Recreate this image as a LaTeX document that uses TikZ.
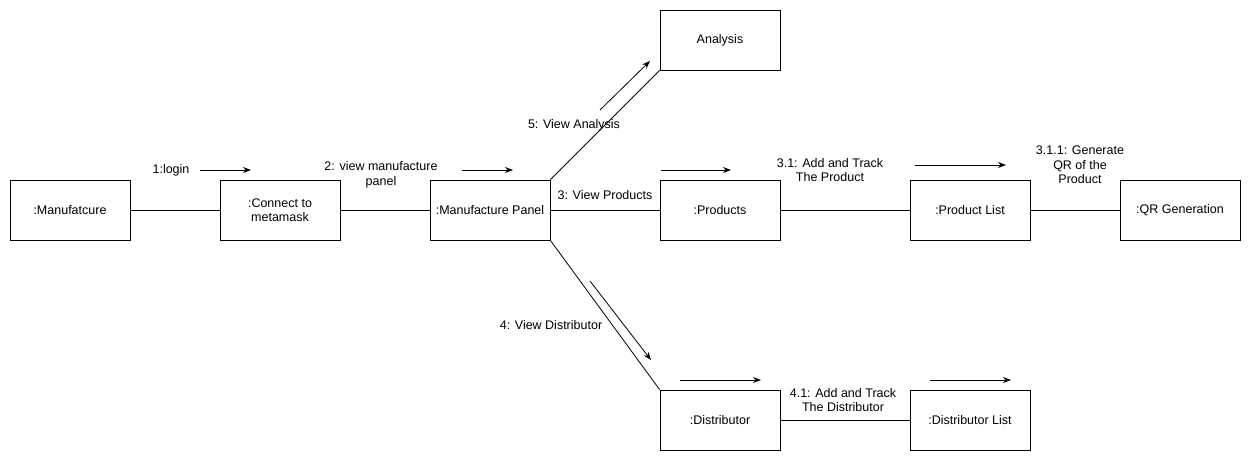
\documentclass[tikz,border=0pt]{standalone}
\usepackage{fontspec}
\setmainfont{Liberation Sans}
\usetikzlibrary{arrows.meta}
\begin{document}
\begin{tikzpicture}[x=1pt,y=-1pt,line width=0.8pt,
  box/.style={draw, minimum width=120pt, minimum height=60pt, inner sep=0pt,
    font=\fontsize{12.5}{14.5}\selectfont, align=center},
  lbl/.style={font=\fontsize{12.5}{14.5}\selectfont, align=center, inner sep=0pt},
  msg/.style={-{Stealth[length=8pt,width=6pt]}}]
\useasboundingbox (0,0) rectangle (1251,461);
% objects
\node[box] (m)  at (70,210)   {:Manufatcure};
\node[box] (c)  at (280,210)  {:Connect to\\metamask};
\node[box] (p)  at (490,210)  {:Manufacture Panel};
\node[box] (a)  at (720,40)   {Analysis};
\node[box] (pr) at (720,210)  {:Products};
\node[box] (pl) at (970,210)  {:Product List};
\node[box] (qr) at (1180,210) {:QR Generation};
\node[box] (d)  at (720,420)  {:Distributor};
\node[box] (dl) at (970,420)  {:Distributor List};
% links
\draw (m) -- (c);
\draw (c) -- (p);
\draw (p) -- (pr);
\draw (pr) -- (pl);
\draw (pl) -- (qr);
\draw (d) -- (dl);
\draw (p.north east) -- (a.south west);
\draw (p.south east) -- (d.north west);
% message arrows
\coordinate (a1s) at (200,170);  \coordinate (a1e) at (251,170);
\coordinate (a2s) at (462,170);  \coordinate (a2e) at (513,170);
\coordinate (a5s) at (600,110);  \coordinate (a5e) at (650,61);
\coordinate (a3s) at (661,170);  \coordinate (a3e) at (731,170);
\coordinate (a31s) at (915,165); \coordinate (a31e) at (1006,165);
\coordinate (a4s) at (590,281);  \coordinate (a4e) at (651,360);
\coordinate (a41s) at (680,380); \coordinate (a41e) at (761,380);
\coordinate (a42s) at (930,380); \coordinate (a42e) at (1011,380);
\draw[msg] (a1s) -- (a1e);
\draw[msg] (a2s) -- (a2e);
\draw[msg] (a5s) -- (a5e);
\draw[msg] (a3s) -- (a3e);
\draw[msg] (a31s) -- (a31e);
\draw[msg] (a4s) -- (a4e);
\draw[msg] (a41s) -- (a41e);
\draw[msg] (a42s) -- (a42e);
% labels
\node[lbl] (l1)   at (171,170)  {1:login};
\node[lbl] (l2)   at (381,175)  {2: view manufacture\\panel};
\node[lbl] (l5)   at (574,125)  {5: View Analysis};
\node[lbl] (l3)   at (605,195)  {3: View Products};
\node[lbl] (l31)  at (830,170)  {3.1: Add and Track\\The Product};
\node[lbl] (l311) at (1080,165) {3.1.1: Generate\\QR of the\\Product};
\node[lbl] (l4)   at (551,325)  {4: View Distributor};
\node[lbl] (l41)  at (843,400)  {4.1: Add and Track\\The Distributor};
\end{tikzpicture}
\end{document}
